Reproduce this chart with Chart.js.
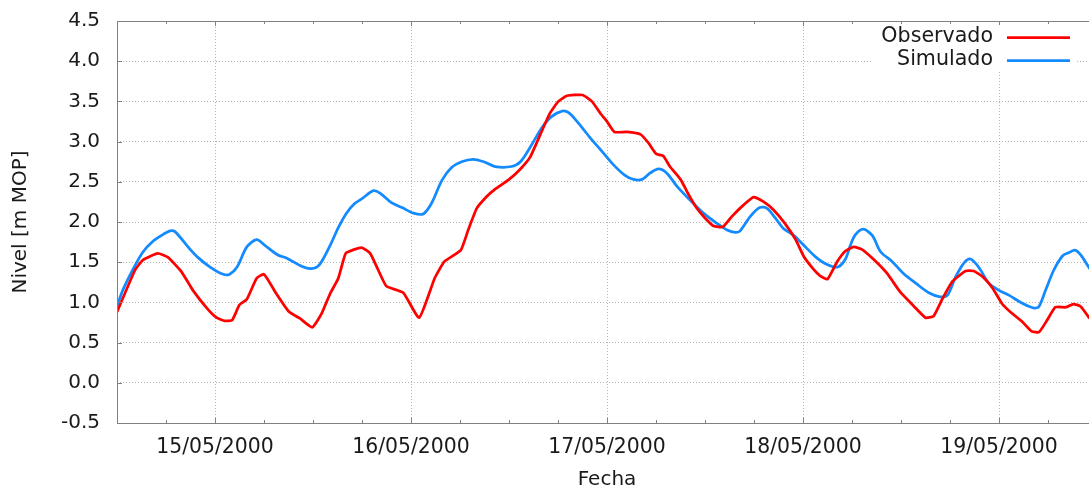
<!DOCTYPE html>
<html>
<head>
<meta charset="utf-8">
<script src="https://cdn.jsdelivr.net/npm/chart.js@4/dist/chart.umd.min.js"></script>
<style>
  html, body { margin: 0; padding: 0; background: #fff; overflow: hidden; }
  #wrap { width: 1098px; height: 491px; }
</style>
</head>
<body>
<div id="wrap"><canvas id="nivel" width="1098" height="491"></canvas></div>
<script>
// hours counted from 14/05/2000 00:00
const obsHours = [12.0, 14.2, 15.2, 17.0, 18.25, 19.9, 21.3, 23.0, 24.2, 25.2, 26.1, 27.0, 27.9, 29.1, 30.0,
    31.5, 33.0, 34.4, 35.9, 37.05, 38.1, 39.1, 40.0, 41.1, 42.0, 43.0, 44.0, 45.0, 47.05, 49.0,
    50.9, 52.1, 54.1, 55.0, 56.05, 57.3, 58.3, 59.9, 61.4, 62.6, 63.8, 65.0, 66.05, 67.1, 69.0,
    70.15, 71.2, 72.0, 72.9, 74.4, 76.1, 77.1, 78.0, 78.9, 79.7, 81.0, 82.0, 83.0, 84.0, 85.05,
    86.2, 87.3, 88.7, 89.95, 91.2, 92.4, 93.8, 95.1, 96.1, 97.3, 98.1, 99.0, 100.2, 101.2, 102.2,
    103.2, 104.7, 106.3, 107.9, 109.6, 111.0, 112.0, 113.05, 114.3, 115.9, 116.9, 118.0, 119.2, 120.4, 121.4,
    122.85, 124.0, 124.9, 125.9, 126.9, 128.2, 129.1, 130.0, 131.1];
const obsLevels = [0.88, 1.40, 1.53, 1.61, 1.56, 1.38, 1.15, 0.93, 0.81, 0.77, 0.78, 0.97, 1.04, 1.30, 1.35,
    1.11, 0.89, 0.80, 0.69, 0.86, 1.11, 1.30, 1.61, 1.66, 1.68, 1.61, 1.40, 1.20, 1.12, 0.81,
    1.30, 1.51, 1.65, 1.90, 2.17, 2.32, 2.41, 2.52, 2.66, 2.81, 3.08, 3.35, 3.50, 3.57, 3.58,
    3.50, 3.35, 3.25, 3.12, 3.12, 3.09, 2.98, 2.85, 2.82, 2.69, 2.53, 2.34, 2.17, 2.05, 1.95,
    1.94, 2.07, 2.21, 2.31, 2.25, 2.15, 1.98, 1.78, 1.57, 1.41, 1.33, 1.29, 1.51, 1.64, 1.69,
    1.66, 1.53, 1.36, 1.13, 0.95, 0.81, 0.83, 1.04, 1.26, 1.39, 1.39, 1.32, 1.18, 0.98, 0.88,
    0.76, 0.64, 0.63, 0.78, 0.94, 0.94, 0.98, 0.95, 0.80];

const simHours = [12.0, 12.7, 14.0, 15.2, 16.4, 17.4, 18.5, 19.1, 20.7, 21.9, 23.4, 25.0, 25.8, 26.7, 27.9,
    29.1, 30.1, 31.7, 32.8, 34.6, 35.8, 36.8, 38.1, 39.1, 40.1, 41.1, 42.0, 43.4, 44.2, 45.6,
    46.9, 48.3, 49.5, 50.5, 51.8, 53.0, 54.2, 55.6, 56.9, 58.3, 60.3, 61.4, 62.6, 64.0, 65.2,
    66.5, 67.3, 68.5, 70.15, 71.2, 72.8, 74.2, 75.25, 76.3, 77.3, 78.3, 79.3, 80.6, 82.2, 83.8,
    85.5, 86.7, 87.7, 88.3, 89.55, 90.7, 91.6, 92.6, 93.6, 94.9, 96.1, 97.5, 98.95, 100.25, 101.2,
    101.8, 102.4, 103.4, 104.5, 105.5, 106.9, 108.3, 109.8, 111.4, 112.8, 113.7, 114.7, 115.7, 116.5, 117.5,
    118.75, 120.0, 121.2, 122.85, 124.3, 124.9, 125.7, 126.7, 127.8, 128.6, 129.3, 130.0, 131.1];
const simLevels = [0.95, 1.15, 1.42, 1.63, 1.76, 1.83, 1.89, 1.88, 1.69, 1.56, 1.44, 1.35, 1.35, 1.44, 1.69,
    1.78, 1.71, 1.59, 1.55, 1.45, 1.42, 1.47, 1.71, 1.93, 2.11, 2.23, 2.29, 2.39, 2.36, 2.24,
    2.18, 2.11, 2.10, 2.23, 2.52, 2.68, 2.75, 2.78, 2.75, 2.69, 2.69, 2.75, 2.93, 3.17, 3.31,
    3.38, 3.36, 3.23, 3.02, 2.90, 2.71, 2.58, 2.53, 2.53, 2.61, 2.66, 2.61, 2.44, 2.27, 2.11,
    1.98, 1.90, 1.87, 1.89, 2.07, 2.18, 2.17, 2.05, 1.92, 1.83, 1.71, 1.57, 1.47, 1.44, 1.54,
    1.71, 1.84, 1.91, 1.83, 1.63, 1.51, 1.36, 1.24, 1.12, 1.07, 1.09, 1.32, 1.49, 1.54, 1.44,
    1.24, 1.15, 1.09, 0.99, 0.93, 0.95, 1.15, 1.40, 1.58, 1.62, 1.65, 1.59, 1.42];

const dayHours = [24, 48, 72, 96, 120];
const dayLabels = ['15/05/2000', '16/05/2000', '17/05/2000', '18/05/2000', '19/05/2000'];

const red = "rgb(255,0,0)";
const blue = "rgb(20,138,255)";
const axisGrey = "#808080";
const gridGrey = "#b4b4b4";
const textCol = "#1a1a1a";
const fontFamily = "'DejaVu Sans', sans-serif";

const toPoints = (xs, ys) => xs.map((x, i) => ({x: x, y: ys[i]}));
const dayIndex = v => dayHours.findIndex(h => Math.abs(h - v) < 1e-6);
const isDay = v => dayIndex(v) >= 0;

// vertical grid only at the day ticks (dotted like gnuplot)
const dayGridPlugin = {
    id: 'dayGrid',
    beforeDatasetsDraw(chart) {
        const ctx = chart.ctx;
        const a = chart.chartArea;
        ctx.save();
        ctx.strokeStyle = gridGrey;
        ctx.lineWidth = 1;
        ctx.setLineDash([1, 2]);
        ctx.beginPath();
        for (const h of dayHours) {
            const px = Math.round(chart.scales.x.getPixelForValue(h)) + 0.5;
            ctx.moveTo(px, a.top);
            ctx.lineTo(px, a.bottom);
        }
        ctx.stroke();
        ctx.restore();
    }
};

// gnuplot style frame: border on four sides with inward ticks, key in top right
const framePlugin = {
    id: 'frame',
    afterDraw(chart) {
        const ctx = chart.ctx;
        const a = chart.chartArea;
        ctx.save();
        ctx.strokeStyle = axisGrey;
        ctx.lineWidth = 1;
        ctx.strokeRect(a.left + 0.5, a.top + 0.5, a.right - a.left - 1, a.bottom - a.top);
        ctx.beginPath();
        for (const t of chart.scales.x.ticks) {
            const px = Math.round(chart.scales.x.getPixelForValue(t.value)) + 0.5;
            const len = isDay(t.value) ? 5 : 3;
            ctx.moveTo(px, a.bottom); ctx.lineTo(px, a.bottom - len);
            ctx.moveTo(px, a.top); ctx.lineTo(px, a.top + len);
        }
        for (const t of chart.scales.y.ticks) {
            const py = Math.round(chart.scales.y.getPixelForValue(t.value)) + 0.5;
            ctx.moveTo(a.left, py); ctx.lineTo(a.left + 5, py);
            ctx.moveTo(a.right, py); ctx.lineTo(a.right - 5, py);
        }
        ctx.stroke();

        // key
        ctx.fillStyle = '#fff';
        ctx.fillRect(872, 25, 204, 46);
        ctx.font = "20.6px " + fontFamily;
        ctx.textAlign = 'right';
        ctx.textBaseline = 'middle';
        chart.data.datasets.forEach((ds, i) => {
            const y = 37 + i * 23;
            ctx.fillStyle = textCol;
            ctx.fillText(ds.label, 993, y);
            ctx.strokeStyle = ds.borderColor;
            ctx.lineWidth = ds.borderWidth;
            ctx.beginPath();
            ctx.moveTo(1007, y + 0.5);
            ctx.lineTo(1070, y + 0.5);
            ctx.stroke();
        });
        ctx.restore();
    }
};

const config = {
    type: 'line',
    data: {
        datasets: [{
            label: 'Observado',
            data: toPoints(obsHours, obsLevels),
            borderColor: red,
            borderWidth: 2.75,
            pointRadius: 0,
            tension: 0.15
        }, {
            label: 'Simulado',
            data: toPoints(simHours, simLevels),
            borderColor: blue,
            borderWidth: 2.75,
            pointRadius: 0,
            tension: 0.3
        }]
    },
    options: {
        responsive: false,
        animation: false,
        devicePixelRatio: 1,
        layout: {padding: {top: 21, right: 1, left: 0, bottom: 0}},
        plugins: {
            legend: {display: false},
            tooltip: {enabled: false}
        },
        scales: {
            x: {
                type: 'linear',
                min: 12,
                max: 132,
                afterFit: s => {
                    s.height = 68;
                    s.paddingLeft = 0;
                    s.paddingRight = 0;
                },
                ticks: {
                    stepSize: 6,
                    maxTicksLimit: 100,
                    autoSkip: false,
                    maxRotation: 0,
                    padding: 12,
                    color: textCol,
                    font: {family: fontFamily, size: 20.4},
                    callback: v => isDay(v) ? dayLabels[dayIndex(v)] : ''
                },
                grid: {display: false, drawTicks: false},
                border: {display: false},
                title: {
                    display: true,
                    text: 'Fecha',
                    color: textCol,
                    font: {family: fontFamily, size: 20, lineHeight: 1.1},
                    padding: {top: 0, bottom: 0}
                }
            },
            y: {
                min: -0.5,
                max: 4.5,
                afterFit: s => {
                    s.width = 117;
                    s.paddingTop = 0;
                    s.paddingBottom = 0;
                },
                ticks: {
                    stepSize: 0.5,
                    padding: 17,
                    color: textCol,
                    font: {family: fontFamily, size: 20},
                    callback: v => v.toFixed(1)
                },
                grid: {
                    drawTicks: false,
                    color: gridGrey,
                    lineWidth: 1
                },
                border: {display: false, dash: [1, 2]},
                title: {
                    display: true,
                    text: 'Nivel [m MOP]',
                    color: textCol,
                    font: {family: fontFamily, size: 20, lineHeight: 1.2},
                    padding: {top: 9, bottom: 0}
                }
            }
        }
    },
    plugins: [dayGridPlugin, framePlugin]
};

new Chart(document.getElementById('nivel'), config);
</script>
</body>
</html>
